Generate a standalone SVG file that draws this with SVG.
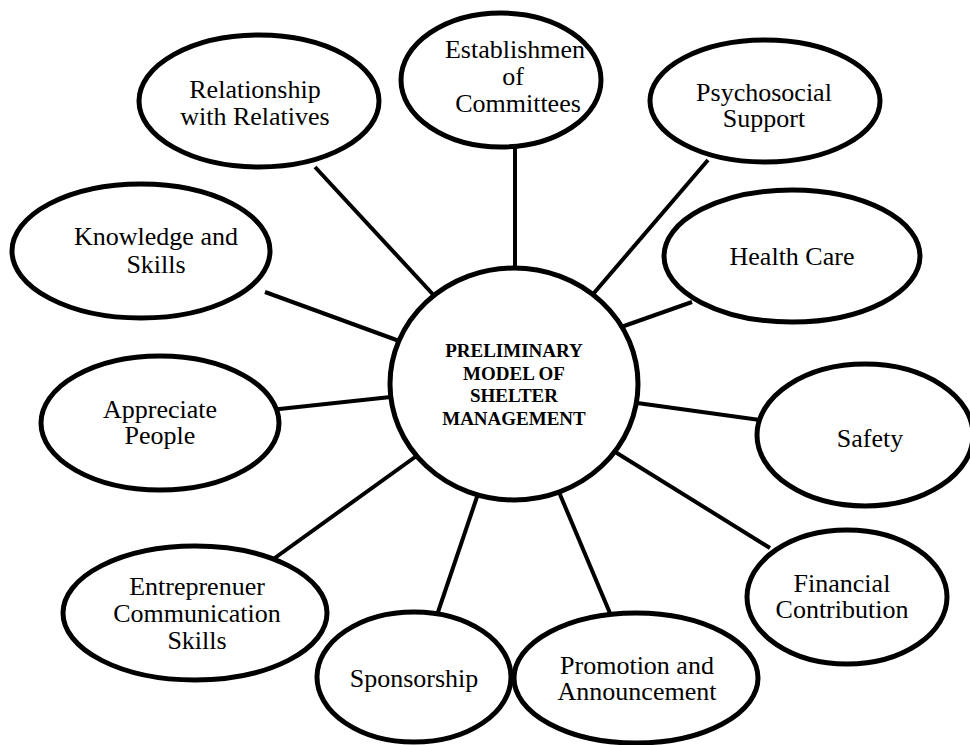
<svg xmlns="http://www.w3.org/2000/svg" width="970" height="745" viewBox="0 0 970 745">
<style>
.n{fill:#fff;stroke:#000;stroke-width:5}
.t{font-family:'Liberation Serif',serif;font-size:26px;fill:#000;text-anchor:middle}
.c{font-family:'Liberation Serif',serif;font-size:19px;font-weight:bold;fill:#000;text-anchor:middle}
#connectors line{stroke:#000;stroke-width:4}
</style>
<rect width="970" height="745" fill="#fff"/>
<g id="connectors">
<line x1="315" y1="167" x2="440" y2="302"/>
<line x1="515" y1="140" x2="515" y2="280"/>
<line x1="708" y1="160" x2="588" y2="300"/>
<line x1="692" y1="302" x2="590" y2="338"/>
<line x1="760" y1="420" x2="630" y2="402"/>
<line x1="770" y1="548" x2="612" y2="450"/>
<line x1="612" y1="618" x2="556" y2="485"/>
<line x1="437" y1="615" x2="480" y2="488"/>
<line x1="272" y1="560" x2="422" y2="452"/>
<line x1="270" y1="410" x2="400" y2="396"/>
<line x1="265" y1="292" x2="402" y2="342"/>
</g>
<g id="relationship"><ellipse class="n" cx="259" cy="101" rx="120" ry="66"/><text class="t" x="255" y="98" font-family="Liberation Serif">Relationship</text><text class="t" x="255" y="125" font-family="Liberation Serif">with Relatives</text></g>
<g id="establishment"><ellipse class="n" cx="501" cy="80" rx="100" ry="67"/><text class="t" x="515" y="58">Establishmen</text><text class="t" x="513" y="85">of</text><text class="t" x="518" y="112">Committees</text></g>
<g id="psychosocial"><ellipse class="n" cx="765" cy="101" rx="115" ry="61"/><text class="t" x="764" y="101">Psychosocial</text><text class="t" x="764" y="127">Support</text></g>
<g id="knowledge"><ellipse class="n" cx="141" cy="251" rx="129" ry="67"/><text class="t" x="156" y="245">Knowledge and</text><text class="t" x="156" y="273">Skills</text></g>
<g id="health"><ellipse class="n" cx="792" cy="256" rx="128" ry="66"/><text class="t" x="792" y="265">Health Care</text></g>
<g id="appreciate"><ellipse class="n" cx="160" cy="423" rx="119" ry="67"/><text class="t" x="160" y="418">Appreciate</text><text class="t" x="160" y="444">People</text></g>
<g id="safety"><ellipse class="n" cx="865" cy="435" rx="108" ry="71"/><text class="t" x="870" y="447">Safety</text></g>
<g id="entrepreneur"><ellipse class="n" cx="195" cy="613" rx="132" ry="67"/><text class="t" x="197" y="595">Entreprenuer</text><text class="t" x="197" y="622">Communication</text><text class="t" x="197" y="649">Skills</text></g>
<g id="sponsorship"><ellipse class="n" cx="414" cy="677" rx="97" ry="65"/><text class="t" x="414" y="687">Sponsorship</text></g>
<g id="promotion"><ellipse class="n" cx="636" cy="678" rx="122" ry="65"/><text class="t" x="637" y="674">Promotion and</text><text class="t" x="637" y="700">Announcement</text></g>
<g id="financial"><ellipse class="n" cx="847" cy="597" rx="100" ry="67"/><text class="t" x="842" y="592">Financial</text><text class="t" x="842" y="618">Contribution</text></g>
<g id="center"><ellipse class="n" cx="514" cy="384" rx="124" ry="116"/><text class="c" x="514" y="357">PRELIMINARY</text><text class="c" x="514" y="380">MODEL OF</text><text class="c" x="514" y="402">SHELTER</text><text class="c" x="514" y="425">MANAGEMENT</text></g>
</svg>
